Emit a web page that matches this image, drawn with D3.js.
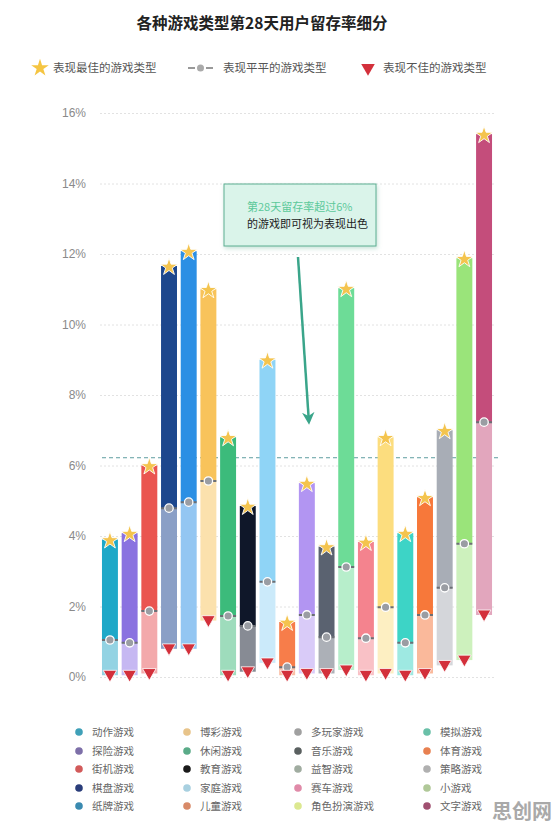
<!DOCTYPE html>
<html>
<head>
<meta charset="utf-8">
<script src="https://cdn.jsdelivr.net/npm/d3@7"></script>
<style>
body { margin:0; background:#fff; font-family:"Noto Sans CJK SC","Noto Sans",sans-serif; }
.tick line { stroke:#e2e2e2; stroke-dasharray:2,2; }
.tick text { fill:#8a8a8a; font-size:12px; }
.leg { fill:#555; font-size:11.5px; }
.leg2 { fill:#666; font-size:10.5px; }
</style>
</head>
<body>
<svg id="chart"></svg>
<script>
// data (retention on day 28, %)
var categories = ["动作游戏","探险游戏","街机游戏","棋盘游戏","纸牌游戏",
                  "博彩游戏","休闲游戏","教育游戏","家庭游戏","儿童游戏",
                  "多玩家游戏","音乐游戏","益智游戏","赛车游戏","角色扮演游戏",
                  "模拟游戏","体育游戏","策略游戏","小游戏","文字游戏"];
var bestVals   = [3.9, 4.08, 6.0, 11.66, 12.08, 11.0, 6.8, 4.85, 9.0, 1.56,
                  5.5, 3.7, 11.03, 3.83, 6.8, 4.08, 5.1, 7.0, 11.88, 15.4];
var medianVals = [1.05, 0.97, 1.87, 4.79, 4.96, 5.56, 1.73, 1.45, 2.7, 0.28,
                  1.76, 1.13, 3.12, 1.1, 1.98, 0.97, 1.76, 2.53, 3.78, 7.23];
var worstVals  = [0.05, 0.05, 0.1, 0.8, 0.8, 1.6, 0.05, 0.15, 0.4, 0.05,
                  0.1, 0.1, 0.2, 0.05, 0.1, 0.05, 0.1, 0.33, 0.48, 1.76];
var upperColors = ["#1ea8c8","#8a72e0","#ea5550","#1d478d","#2b8fe4",
                   "#f8c35b","#3cbb7b","#0f1729","#8fd4f6","#f77d4a",
                   "#b295f2","#5a6270","#6ddc97","#f4838e","#fcdd7e",
                   "#3dd4c6","#f7783a","#a8adb6","#9ae47a","#c44d7b"];
var lowerColors = ["#93d3e3","#c6b8f2","#f3a9ab","#8a9fc6","#93c6f2",
                   "#fbe1ad","#9edcbc","#878b94","#cbeafa","#fbbea4",
                   "#d9cbf8","#acb0b7","#b7eecb","#f9c1c6","#fdefc2",
                   "#9ee9e2","#fab99b","#d4d6da","#cdf1bd","#e2a6bd"];
var legendColors = ["#3fa0b8","#7d6fa8","#d25a5a","#2a3d7a","#3a8ab0",
                    "#e8c48a","#5aab88","#1a1a1a","#a8d0e0","#d88a68",
                    "#a0a0a0","#5a6060","#a0aca0","#e08aa8","#dce890",
                    "#6ac0a8","#e88050","#b0b0b0","#b0c898","#a05070"];
var yTicks = [0, 2, 4, 6, 8, 10, 12, 14, 16];
var threshold = 6.22;

var screen = {width:557, height:831};

var svg = d3.select("#chart")
    .attr("width", screen.width)
    .attr("height", screen.height);

var xScale = d3.scaleBand()
    .domain(categories)
    .range([100, 494])
    .paddingInner(0.19)
    .paddingOuter(0.1);
var yScale = d3.scaleLinear()
    .domain([0, 16])
    .range([677, 113]);

//title
svg.append("text")
    .text("各种游戏类型第28天用户留存率细分")
    .attr("x", 262)
    .attr("y", 29)
    .attr("text-anchor", "middle")
    .attr("font-size", "15.5px")
    .attr("font-weight", "bold")
    .attr("fill", "#222");

//top legend
var topLeg = svg.append("g");
topLeg.append("path")
    .attr("d", d3.symbol(d3.symbolStar).size(95)())
    .attr("transform", "translate(40,68)")
    .attr("fill", "#f5c542");
topLeg.append("text").classed("leg", true).text("表现最佳的游戏类型").attr("x", 53).attr("y", 72);
topLeg.append("line")
    .attr("x1", 188).attr("x2", 213).attr("y1", 68).attr("y2", 68)
    .attr("stroke", "#999").attr("stroke-width", 2).attr("stroke-dasharray", "7,11");
topLeg.append("circle").attr("cx", 200.5).attr("cy", 68).attr("r", 3.5).attr("fill", "#aaa");
topLeg.append("text").classed("leg", true).text("表现平平的游戏类型").attr("x", 223).attr("y", 72);
topLeg.append("path")
    .attr("d", d3.symbol(d3.symbolTriangle).size(80)())
    .attr("transform", "translate(368,68) rotate(180)")
    .attr("fill", "#d3303b");
topLeg.append("text").classed("leg", true).text("表现不佳的游戏类型").attr("x", 383).attr("y", 72);

//y axis with grid
var yAxis = d3.axisLeft(yScale)
    .tickValues(yTicks)
    .tickSizeInner(-394)
    .tickSizeOuter(0)
    .tickPadding(14)
    .tickFormat(function(d){ return d + "%"; });
var axis = svg.append("g")
    .attr("transform", "translate(100,0)")
    .call(yAxis);
axis.select(".domain").remove();

//threshold line
svg.append("line")
    .attr("x1", 102).attr("x2", 498)
    .attr("y1", yScale(threshold)).attr("y2", yScale(threshold))
    .attr("stroke", "#5f9ea0")
    .attr("stroke-width", 1)
    .attr("stroke-dasharray", "4,3");

//bars
var rows = categories.map(function(c, i){
    return {name:c, best:bestVals[i], median:medianVals[i], worst:worstVals[i],
            up:upperColors[i], low:lowerColors[i]};
});
var bw = xScale.bandwidth();

var bars = svg.append("g")
    .selectAll("g")
    .data(rows)
    .enter()
    .append("g");

bars.append("rect")
    .attr("x", function(d){ return xScale(d.name); })
    .attr("width", bw)
    .attr("y", function(d){ return yScale(d.median); })
    .attr("height", function(d){ return yScale(d.worst) - yScale(d.median); })
    .attr("fill", function(d){ return d.low; });
bars.append("rect")
    .attr("x", function(d){ return xScale(d.name); })
    .attr("width", bw)
    .attr("y", function(d){ return yScale(d.best); })
    .attr("height", function(d){ return yScale(d.median) - yScale(d.best); })
    .attr("fill", function(d){ return d.up; });

//median marker
bars.append("line")
    .attr("x1", function(d){ return xScale(d.name); })
    .attr("x2", function(d){ return xScale(d.name) + bw; })
    .attr("y1", function(d){ return yScale(d.median); })
    .attr("y2", function(d){ return yScale(d.median); })
    .attr("stroke", "#6b6f75")
    .attr("stroke-width", 2)
    .attr("stroke-dasharray", "4,8");
bars.append("circle")
    .attr("cx", function(d){ return xScale(d.name) + bw/2; })
    .attr("cy", function(d){ return yScale(d.median); })
    .attr("r", 4.2)
    .attr("fill", "#9a9da3")
    .attr("stroke", "#fff")
    .attr("stroke-width", 1.3);

//best star
bars.append("path")
    .attr("d", d3.symbol(d3.symbolStar).size(95)())
    .attr("transform", function(d){
        return "translate(" + (xScale(d.name) + bw/2) + "," + (yScale(d.best) + 1) + ")";
    })
    .attr("fill", "#f4c44e")
    .attr("stroke", "#fff")
    .attr("stroke-width", 0.9);

//worst triangle
bars.append("path")
    .attr("d", d3.symbol(d3.symbolTriangle).size(80)())
    .attr("transform", function(d){
        return "translate(" + (xScale(d.name) + bw/2) + "," + (yScale(d.worst) - 1) + ") rotate(180)";
    })
    .attr("fill", "#d3303b")
    .attr("stroke", "#fff")
    .attr("stroke-width", 0.8);

//annotation box with soft shadow
var defs = svg.append("defs");
var shadow = defs.append("filter").attr("id", "shadow")
    .attr("x", "-10%").attr("y", "-10%").attr("width", "130%").attr("height", "140%");
shadow.append("feDropShadow")
    .attr("dx", 1).attr("dy", 2).attr("stdDeviation", 2)
    .attr("flood-color", "#7fbfa6").attr("flood-opacity", 0.45);

var note = svg.append("g");
note.append("rect")
    .attr("x", 224).attr("y", 184)
    .attr("width", 152).attr("height", 62)
    .attr("fill", "#daf4ea")
    .attr("stroke", "#5cae92")
    .attr("stroke-width", 1)
    .attr("filter", "url(#shadow)");
note.append("text")
    .text("第28天留存率超过6%")
    .attr("x", 247).attr("y", 211)
    .attr("font-size", "11px")
    .attr("fill", "#5cc99a");
note.append("text")
    .text("的游戏即可视为表现出色")
    .attr("x", 247).attr("y", 228)
    .attr("font-size", "11px")
    .attr("fill", "#222");

//arrow
defs.append("marker")
    .attr("id", "arrow")
    .attr("viewBox", "0 0 10 10")
    .attr("refX", 3).attr("refY", 5)
    .attr("markerWidth", 5).attr("markerHeight", 5)
    .attr("orient", "auto")
    .append("path")
    .attr("d", "M0,0 L10,5 L0,10 L3,5 z")
    .attr("fill", "#3aa58a");
svg.append("line")
    .attr("x1", 298).attr("y1", 257)
    .attr("x2", 308.5).attr("y2", 416)
    .attr("stroke", "#3aa58a")
    .attr("stroke-width", 2.5)
    .attr("marker-end", "url(#arrow)");

//bottom legend
var colX = [79, 187, 298, 427];
var rowY = [732, 751, 769, 788, 806];
var legend = svg.append("g")
    .selectAll("g")
    .data(categories)
    .enter()
    .append("g")
    .attr("transform", function(d, i){
        return "translate(" + colX[Math.floor(i/5)] + "," + rowY[i%5] + ")";
    });
legend.append("circle")
    .attr("r", 3.8)
    .attr("fill", function(d, i){ return legendColors[i]; });
legend.append("text")
    .classed("leg2", true)
    .text(function(d){ return d; })
    .attr("x", 13)
    .attr("y", 4);

//watermark
svg.append("text")
    .text("思创网")
    .attr("x", 522).attr("y", 819)
    .attr("text-anchor", "middle")
    .attr("font-size", "20px")
    .attr("font-weight", "bold")
    .attr("fill", "#a9a9a9");
</script>
</body>
</html>
